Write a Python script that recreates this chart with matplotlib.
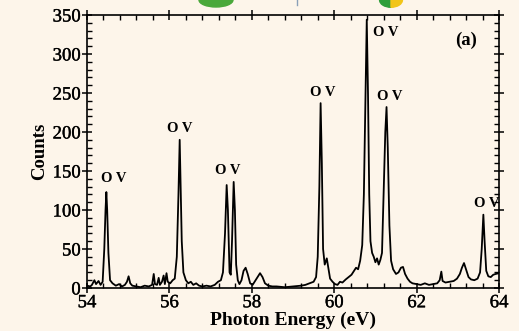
import matplotlib
matplotlib.use("Agg")
import matplotlib.pyplot as plt
from matplotlib.ticker import MultipleLocator
from matplotlib.patches import Ellipse, Wedge
import matplotlib.patheffects as pe

# Measured emission spectrum: photon energy (eV) and detector counts
energy = [
    54.00, 54.08, 54.12, 54.18, 54.22, 54.28, 54.33, 54.38, 54.42, 54.45,
    54.47, 54.49, 54.52, 54.56, 54.62, 54.70, 54.78, 54.85, 54.92, 54.97,
    55.01, 55.05, 55.10, 55.20, 55.30, 55.40, 55.50, 55.58, 55.62, 55.65,
    55.70, 55.74, 55.77, 55.82, 55.86, 55.89, 55.93, 55.96, 56.02, 56.08,
    56.13, 56.18, 56.22, 56.25, 56.27, 56.30, 56.34, 56.40, 56.46, 56.52,
    56.58, 56.65, 56.72, 56.80, 56.90, 57.00, 57.10, 57.18, 57.25, 57.30,
    57.35, 57.39, 57.42, 57.46, 57.49, 57.52, 57.56, 57.59, 57.62, 57.66,
    57.70, 57.75, 57.80, 57.85, 57.90, 57.96, 58.02, 58.08, 58.14, 58.20,
    58.26, 58.32, 58.40, 58.50, 58.60, 58.80, 59.00, 59.20, 59.30, 59.40,
    59.50, 59.56, 59.60, 59.64, 59.67, 59.70, 59.73, 59.77, 59.82, 59.86,
    59.90, 59.96, 60.02, 60.08, 60.14, 60.20, 60.28, 60.35, 60.42, 60.48,
    60.53, 60.58, 60.63, 60.68, 60.72, 60.76, 60.79, 60.82, 60.85, 60.88,
    60.92, 60.96, 61.00, 61.04, 61.08, 61.12, 61.16, 61.20, 61.24, 61.27,
    61.30, 61.34, 61.38, 61.43, 61.50, 61.56, 61.62, 61.67, 61.72, 61.78,
    61.84, 61.90, 62.00, 62.10, 62.20, 62.30, 62.40, 62.50, 62.56, 62.60,
    62.63, 62.70, 62.80, 62.90, 62.98, 63.05, 63.10, 63.15, 63.20, 63.26,
    63.32, 63.40, 63.48, 63.54, 63.58, 63.62, 63.65, 63.69, 63.74, 63.80,
    63.86, 63.92, 64.00,
]
counts = [
    3, 2, 4, 10, 5, 9, 4, 8, 50, 100,
    123, 100, 45, 10, 6, 3, 5, 2, 4, 8,
    15, 6, 3, 2, 1, 3, 2, 4, 18, 5,
    4, 13, 4, 8, 16, 5, 19, 8, 6, 10,
    12, 40, 120, 190, 140, 60, 20, 10, 6, 8,
    4, 6, 3, 2, 3, 2, 4, 8, 10, 20,
    70, 132, 100, 20, 17, 60, 136, 100, 30, 10,
    5, 10, 22, 26, 18, 6, 4, 9, 14, 19,
    14, 6, 3, 2, 2, 1, 2, 3, 4, 6,
    8, 14, 40, 130, 237, 160, 50, 30, 38, 25,
    12, 8, 5, 4, 8, 7, 11, 14, 17, 22,
    26, 24, 35, 55, 120, 250, 344, 250, 120, 60,
    45, 40, 33, 38, 30, 36, 45, 120, 200, 232,
    180, 80, 35, 24, 18, 20, 26, 27, 18, 12,
    8, 6, 5, 4, 6, 4, 5, 6, 10, 21,
    9, 7, 8, 9, 12, 18, 26, 32, 24, 14,
    11, 10, 12, 20, 50, 94, 60, 22, 15, 14,
    17, 18, 19,
]

# Line identifications: text, energy, counts
line_labels = ["O V", "O V", "O V", "O V", "O V", "O V", "O V"]
label_energy = [54.66, 56.24, 57.42, 59.73, 61.24, 61.35, 63.70]
label_counts = [141, 205, 151, 251, 327, 245, 108]

x_ticks = [54, 56, 58, 60, 62, 64]
y_ticks = [0, 50, 100, 150, 200, 250, 300, 350]

bg = "#fdf5ea"
serif = ["Liberation Serif", "DejaVu Serif"]
heavy = [pe.withStroke(linewidth=0.25, foreground="black")]

fig = plt.figure(figsize=(5.19, 3.31), dpi=100, facecolor=bg)
ax = fig.add_axes([0.1676, 0.1299, 0.7939, 0.8248], facecolor=bg)

ax.plot(energy, counts, color="black", lw=1.3, solid_joinstyle="round")

for txt, ex, cy in zip(line_labels, label_energy, label_counts):
    ax.text(ex, cy, txt, ha="center", va="center",
            fontsize=10.5, fontweight="bold", family=serif)
ax.text(63.2, 318, "(a)", ha="center", va="center", fontsize=13.5,
        fontweight="bold", family=serif)

ax.set_xlim(54, 64)
ax.set_ylim(0, 350)
ax.set_xticks(x_ticks)
ax.set_yticks(y_ticks)
ax.xaxis.set_minor_locator(MultipleLocator(0.4))
ax.yaxis.set_minor_locator(MultipleLocator(10))
ax.tick_params(which="both", top=True, right=True, color="black")
ax.tick_params(which="major", direction="inout", length=7, width=1.1,
               labelsize=13.5, pad=1)
ax.tick_params(which="minor", direction="in", length=3.5, width=1.0)
for lab in ax.get_xticklabels() + ax.get_yticklabels():
    lab.set_family(serif)
    lab.set_path_effects(heavy)
for sp in ax.spines.values():
    sp.set_linewidth(1.2)

ax.set_xlabel("Photon Energy (eV)", fontsize=14, fontweight="bold",
              family=serif, labelpad=0)
ax.set_ylabel("Counts", fontsize=13.5, fontweight="bold", family=serif,
              labelpad=3)

# Decorative header shapes along the top edge
fig.patches.append(Ellipse((216 / 519, 1.0), 34 / 519, 14 / 331,
                           transform=fig.transFigure, color="#4aa83a",
                           zorder=0))
fig.patches.append(Wedge((391 / 519, 1.0), 0.022, 180, 270,
                         transform=fig.transFigure, color="#2e9e3a", zorder=0))
fig.patches.append(Wedge((391 / 519, 1.0), 0.022, 270, 360,
                         transform=fig.transFigure, color="#f2c518", zorder=0))
fig.lines.append(plt.Line2D([297 / 519, 297 / 519], [1.0, 0.985],
                            transform=fig.transFigure, color="#8aa0b8",
                            lw=1))

fig.savefig("out.png", dpi=100, facecolor=bg)
